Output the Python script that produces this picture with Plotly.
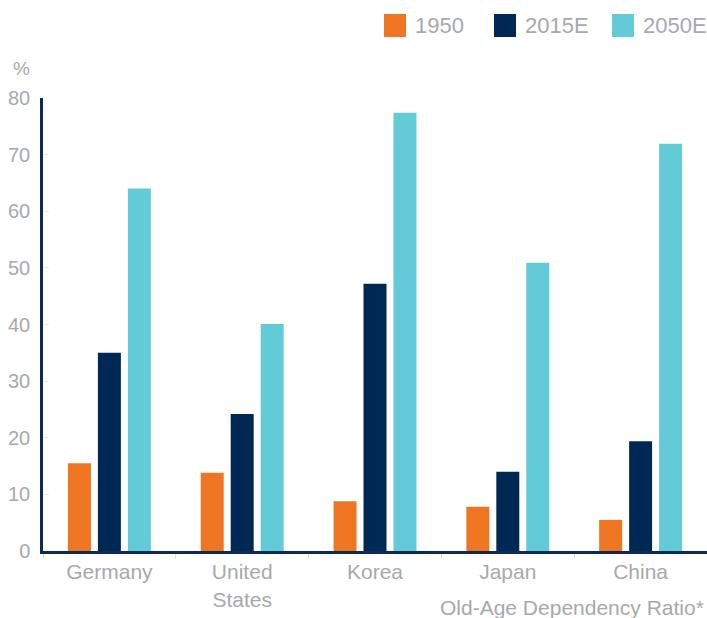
import plotly.graph_objects as go

categories = ["Germany", "United<br>States", "Korea", "Japan", "China"]
series_names = ["1950", "2015E", "2050E"]
values_1950 = [15.5, 13.8, 8.8, 7.8, 5.5]
values_2015 = [35.0, 24.2, 47.2, 14.0, 19.4]
values_2050 = [64.0, 40.1, 77.4, 50.9, 71.9]
y_ticks = [0, 10, 20, 30, 40, 50, 60, 70, 80]

colors = ["#EE7623", "#002855", "#63CAD8"]
text_gray = "#A7A9AC"
font_family = "Liberation Sans, Arial, sans-serif"

W, H = 707, 618
ML, MT = 43, 98
MB = H - 551
MR = 0
PW, PH = W - ML - MR, H - MT - MB

def px_to_paper(x, y):
    return (x - ML) / PW, (H - MB - y) / PH

fig = go.Figure()
for name, vals, col in zip(series_names, [values_1950, values_2015, values_2050], colors):
    fig.add_trace(go.Bar(x=categories, y=vals, name=name, marker=dict(color=col, line=dict(width=0)),
                         showlegend=False, hoverinfo="skip"))

shapes = []
annotations = []
legend_x = [384, 494, 612]
for name, col, lx in zip(series_names, colors, legend_x):
    x0, y0 = px_to_paper(lx, 37)
    x1, y1 = px_to_paper(lx + 22, 14)
    shapes.append(dict(type="rect", xref="paper", yref="paper", x0=x0, x1=x1, y0=y0, y1=y1,
                       fillcolor=col, line=dict(width=0)))
    tx, ty = px_to_paper(lx + 29, 25)
    annotations.append(dict(text=name, xref="paper", yref="paper", x=tx, y=ty, xanchor="left",
                            yanchor="middle", showarrow=False,
                            font=dict(size=22, color=text_gray, family=font_family)))

px_, py_ = px_to_paper(21, 68)
annotations.append(dict(text="%", xref="paper", yref="paper", x=px_, y=py_, xanchor="center",
                        yanchor="middle", showarrow=False,
                        font=dict(size=19, color=text_gray, family=font_family)))
tx, ty = px_to_paper(706, 607)
annotations.append(dict(text="Old-Age Dependency Ratio*", xref="paper", yref="paper", x=tx, y=ty,
                        xanchor="right", yanchor="middle", showarrow=False,
                        font=dict(size=21, color=text_gray, family=font_family)))

fig.update_layout(
    width=W, height=H,
    margin=dict(l=ML, r=MR, t=MT, b=MB, pad=0),
    paper_bgcolor="white", plot_bgcolor="white",
    barmode="group", bargap=0.323, bargroupgap=0.233,
    font=dict(family=font_family, color=text_gray, size=20),
    shapes=shapes, annotations=annotations,
    xaxis=dict(showline=True, linecolor="#0B2A55", linewidth=3, ticks="outside",
               tickson="boundaries", ticklen=5, tickcolor="#DDDDDD", showgrid=False,
               tickfont=dict(size=21, color=text_gray)),
    yaxis=dict(range=[0, 80], tickvals=y_ticks, showline=True, linecolor="#0B2A55", linewidth=2.5,
               ticks="inside", ticklen=6, tickcolor="#EEEEEE", showgrid=False, zeroline=False,
               ticklabelstandoff=6, tickfont=dict(size=20, color=text_gray)),
)

fig.write_html(
    "out.html",
    config={"displayModeBar": False},
    post_script="document.body.style.margin='0';document.body.style.overflow='hidden';",
)
